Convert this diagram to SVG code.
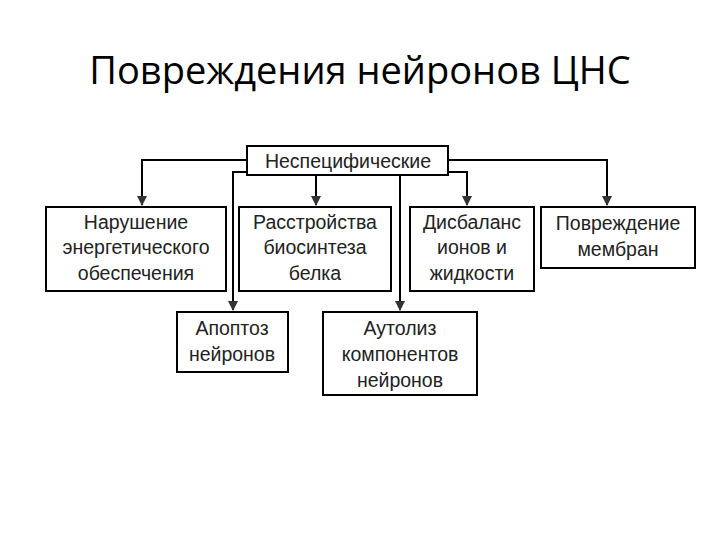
<svg xmlns="http://www.w3.org/2000/svg" width="720" height="540" viewBox="0 0 720 540">
<style>
.b{fill:#fff;stroke:#000;stroke-width:2}
.t{font-family:"Liberation Sans",Arial,sans-serif;font-size:19.5px;fill:#222;text-anchor:middle}
.c{fill:none;stroke:#000;stroke-width:2}
</style>
<defs><marker id="a" markerWidth="10" markerHeight="10" refX="9" refY="5" orient="auto" markerUnits="userSpaceOnUse" viewBox="0 0 10 10"><path d="M0,0L10,5L0,10Z" fill="#333"/></marker></defs>
<rect width="720" height="540" fill="#fff"/>
<text x="360" y="84" font-family="'Open Sans','Noto Sans',sans-serif" font-size="38" text-anchor="middle" fill="#000">Повреждения нейронов ЦНС</text>
<g id="connectors">
<path class="c" d="M247,160H142V205" marker-end="url(#a)"/>
<path class="c" d="M448,160H607V205" marker-end="url(#a)"/>
<path class="c" d="M316,175V205" marker-end="url(#a)"/>
<path class="c" d="M247,172H233V310" marker-end="url(#a)"/>
<path class="c" d="M400,175V310" marker-end="url(#a)"/>
<path class="c" d="M448,172H467V205" marker-end="url(#a)"/>
</g>
<g id="n0"><rect class="b" x="247" y="146" width="201" height="29"/><text class="t" x="348" y="168">Неспецифические</text></g>
<g id="n1"><rect class="b" x="46" y="207" width="180" height="84"/><text class="t" x="136" y="229">Нарушение</text><text class="t" x="136" y="254">энергетического</text><text class="t" x="136" y="280">обеспечения</text></g>
<g id="n2"><rect class="b" x="239" y="207" width="152" height="84"/><text class="t" x="315" y="229">Расстройства</text><text class="t" x="315" y="254">биосинтеза</text><text class="t" x="315" y="280">белка</text></g>
<g id="n3"><rect class="b" x="410" y="207" width="124" height="84"/><text class="t" x="472" y="229">Дисбаланс</text><text class="t" x="472" y="254">ионов и</text><text class="t" x="472" y="280">жидкости</text></g>
<g id="n4"><rect class="b" x="541" y="207" width="154" height="61"/><text class="t" x="618" y="230">Повреждение</text><text class="t" x="618" y="256">мембран</text></g>
<g id="n5"><rect class="b" x="177" y="312" width="111" height="60"/><text class="t" x="232" y="335">Апоптоз</text><text class="t" x="232" y="361">нейронов</text></g>
<g id="n6"><rect class="b" x="323" y="312" width="154" height="83"/><text class="t" x="400" y="335">Аутолиз</text><text class="t" x="400" y="361">компонентов</text><text class="t" x="400" y="387">нейронов</text></g>
</svg>
